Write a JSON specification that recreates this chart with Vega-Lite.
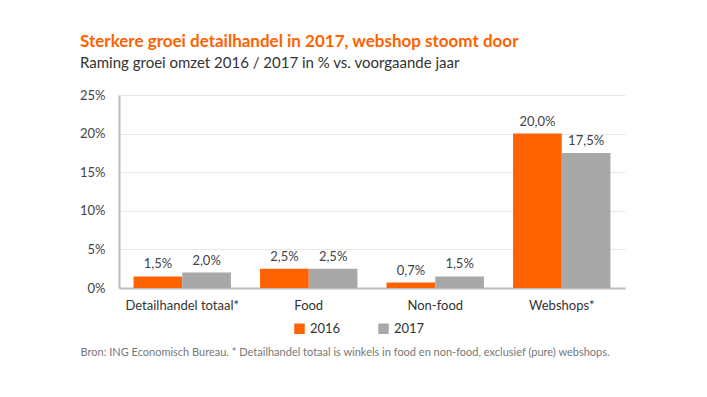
{
  "$schema": "https://vega.github.io/schema/vega-lite/v6.json",
  "width": 506,
  "height": 193,
  "autosize": {"type": "none"},
  "padding": {"left": 119, "top": 95, "right": 82, "bottom": 109},
  "background": "white",
  "config": {
    "font": "Lato",
    "view": {"stroke": null},
    "axis": {"labelFont": "Lato", "titleFont": "Lato"}
  },
  "title": {
    "text": "Sterkere groei detailhandel in 2017, webshop stoomt door",
    "subtitle": "Raming groei omzet 2016 / 2017 in % vs. voorgaande jaar",
    "anchor": "start",
    "frame": "group",
    "dx": -39,
    "offset": 17,
    "font": "Lato",
    "fontSize": 17,
    "fontWeight": "bold",
    "color": "#FF6200",
    "subtitleFont": "Lato",
    "subtitleFontSize": 15,
    "subtitleColor": "#333333",
    "subtitlePadding": 5
  },
  "data": {
    "values": [
      {"cat": "Detailhandel totaal*", "jaar": "2016", "v": 1.5, "label": "1,5%"},
      {"cat": "Detailhandel totaal*", "jaar": "2017", "v": 2.0, "label": "2,0%"},
      {"cat": "Food", "jaar": "2016", "v": 2.5, "label": "2,5%"},
      {"cat": "Food", "jaar": "2017", "v": 2.5, "label": "2,5%"},
      {"cat": "Non-food", "jaar": "2016", "v": 0.7, "label": "0,7%"},
      {"cat": "Non-food", "jaar": "2017", "v": 1.5, "label": "1,5%"},
      {"cat": "Webshops*", "jaar": "2016", "v": 20.0, "label": "20,0%"},
      {"cat": "Webshops*", "jaar": "2017", "v": 17.5, "label": "17,5%"}
    ]
  },
  "encoding": {
    "x": {
      "field": "cat",
      "type": "nominal",
      "sort": null,
      "scale": {"paddingInner": 0.23, "paddingOuter": 0.115},
      "axis": {
        "labelAngle": 0,
        "labelFontSize": 13,
        "labelColor": "#333333",
        "labelPadding": 11,
        "ticks": false,
        "domainColor": "#BBBBBB",
        "domainWidth": 2,
        "title": "Bron: ING Economisch Bureau. * Detailhandel totaal is winkels in food en non-food, exclusief (pure) webshops.",
        "titleFontSize": 11,
        "titleFontWeight": "normal",
        "titleColor": "#777777",
        "titleX": -39,
        "titleY": 58,
        "titleAlign": "left",
        "titleAnchor": "start"
      }
    },
    "xOffset": {"field": "jaar", "type": "nominal", "scale": {"paddingInner": 0}},
    "y": {
      "field": "v",
      "type": "quantitative",
      "scale": {"domain": [0, 25]},
      "axis": {
        "values": [0, 5, 10, 15, 20, 25],
        "labelExpr": "datum.value + '%'",
        "labelFontSize": 13,
        "labelColor": "#444444",
        "labelPadding": 14,
        "ticks": false,
        "domainColor": "#BBBBBB",
        "domainWidth": 2,
        "gridColor": "#E8E8E8",
        "title": null
      }
    }
  },
  "layer": [
    {
      "mark": {"type": "bar"},
      "encoding": {
        "color": {
          "field": "jaar",
          "type": "nominal",
          "scale": {"domain": ["2016", "2017"], "range": ["#FF6200", "#A8A8A8"]},
          "legend": {
            "orient": "none",
            "legendX": 174,
            "legendY": 227,
            "direction": "horizontal",
            "title": null,
            "symbolType": "square",
            "symbolSize": 110,
            "symbolStrokeWidth": 0,
            "labelFontSize": 13,
            "labelColor": "#333333",
            "columnPadding": 36,
            "labelOffset": 4
          }
        }
      }
    },
    {
      "mark": {"type": "text", "baseline": "bottom", "dy": -5, "fontSize": 13, "color": "#444444"},
      "encoding": {"text": {"field": "label"}}
    }
  ]
}
